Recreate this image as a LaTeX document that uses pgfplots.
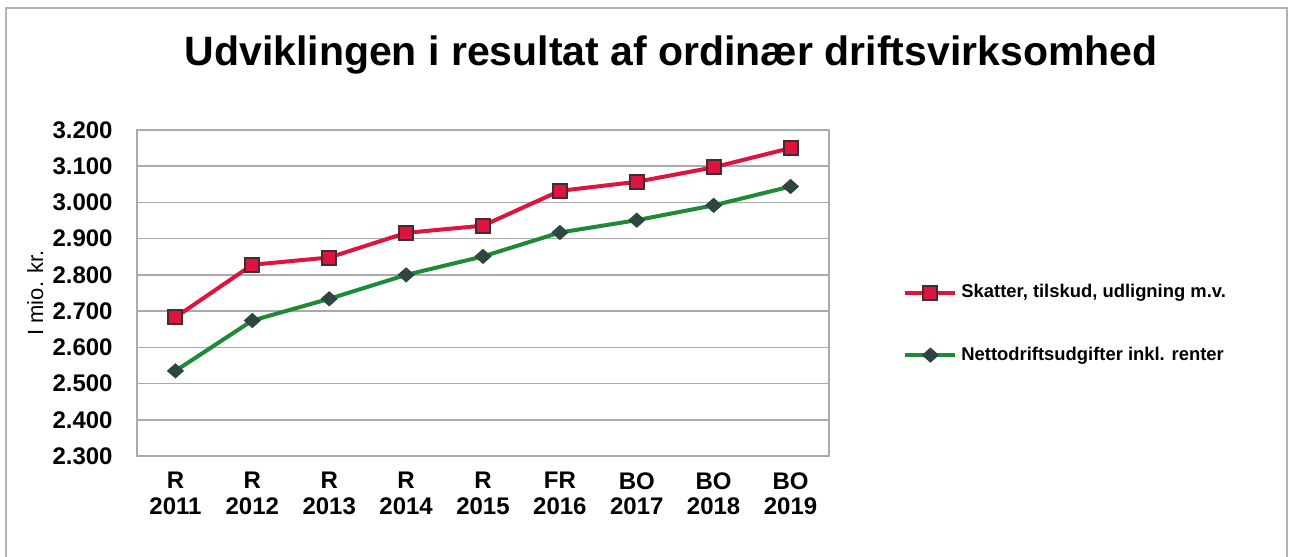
\documentclass[border=0pt]{standalone}
\usepackage{fontspec}
\setmainfont{Liberation Sans}
\usepackage{pgfplots}
\pgfplotsset{compat=1.18}
\definecolor{redline}{RGB}{222,20,62}
\definecolor{greenline}{RGB}{28,138,55}
\definecolor{markdark}{RGB}{65,45,48}
\definecolor{diamfill}{RGB}{45,70,65}
\definecolor{gridgray}{RGB}{170,170,170}
\begin{document}
\begin{tikzpicture}
\useasboundingbox (0,0) rectangle (646.5pt,278pt);
\draw[gray!60, line width=0.9pt] (3pt,-5pt) -- (3pt,274pt) -- (643.5pt,274pt) -- (643.5pt,-5pt);
\node[font=\fontsize{20.5}{24}\selectfont\bfseries, anchor=base] at (335.5pt,245pt) {Udviklingen i resultat af ordinær driftsvirksomhed};
\begin{axis}[
  at={(68.5pt,50pt)}, anchor=south west,
  scale only axis, width=346pt, height=163pt,
  xmin=-0.5, xmax=8.5, ymin=2300, ymax=3200,
  xtick={0,...,8},
  xticklabels={{R\\2011},{R\\2012},{R\\2013},{R\\2014},{R\\2015},{FR\\2016},{BO\\2017},{BO\\2018},{BO\\2019}},
  ytick={2300,2400,2500,2600,2700,2800,2900,3000,3100,3200},
  yticklabels={2.300,2.400,2.500,2.600,2.700,2.800,2.900,3.000,3.100,3.200},
  ymajorgrids,
  grid style={gridgray, line width=0.8pt},
  axis line style={gridgray, line width=0.8pt},
  major tick length=0pt,
  tick style={draw=none},
  xticklabel style={align=center, anchor=north, inner sep=0pt, yshift=-8pt, font=\fontsize{12}{12.8}\selectfont\bfseries},
  yticklabel style={anchor=east, inner sep=0pt, xshift=-12pt, font=\fontsize{12}{13}\selectfont\bfseries},
  ylabel={I mio. kr.},
  ylabel style={at={(axis description cs:-0.147,0.5)}, anchor=center, font=\fontsize{11}{13}\selectfont},
  legend style={draw=none, fill=none, at={(1.107,0.405)}, anchor=west, font=\fontsize{9.2}{11}\selectfont\bfseries, row sep=19pt, inner sep=0pt},
  legend cell align=left,
  legend image code/.code={\draw[mark repeat=2,mark phase=2,#1] plot coordinates {(0pt,0pt) (12.5pt,0pt) (25pt,0pt)};},
]
\addplot[redline, line width=2pt, mark=square*, mark size=3.5pt, mark options={fill=redline, draw=markdark, line width=1pt}]
  coordinates {(0,2683) (1,2828) (2,2848) (3,2916) (4,2936) (5,3032) (6,3057) (7,3097) (8,3150)};
\addlegendentry{Skatter, tilskud, udligning m.v.}
\addplot[greenline, line width=2pt, mark=diamond*, mark size=3.3pt, mark options={fill=diamfill, draw=diamfill, line width=0.8pt, xscale=1.5}]
  coordinates {(0,2535) (1,2674) (2,2734) (3,2800) (4,2851) (5,2917) (6,2951) (7,2992) (8,3044)};
\addlegendentry{Nettodriftsudgifter inkl. renter}
\end{axis}
\end{tikzpicture}
\end{document}
